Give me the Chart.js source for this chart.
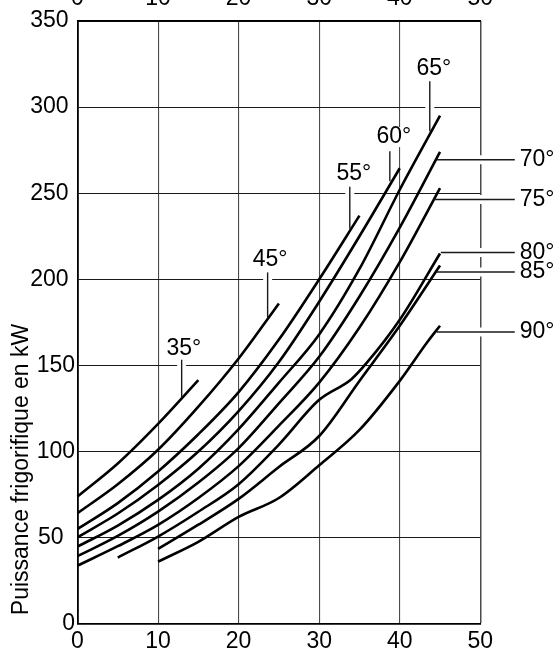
<!DOCTYPE html>
<html>
<head>
<meta charset="utf-8">
<script src="https://cdn.jsdelivr.net/npm/chart.js@4.4.1/dist/chart.umd.min.js"></script>
<style>
  html, body { margin: 0; padding: 0; background: #fff; }
  #wrap { width: 559px; height: 650px; position: relative; }
</style>
</head>
<body>
<div id="wrap"><canvas id="c" width="559" height="650"></canvas></div>
<script>
// ---- data ----
const xTicks = [0, 10, 20, 30, 40, 50];
const yTicks = [0, 50, 100, 150, 200, 250, 300, 350];
const yTitle = 'Puissance frigorifique en kW';

const x35 = [0, 5, 10, 15];
const y35 = [73.8, 93, 116, 141.4];
const x45 = [0, 5, 10, 15, 20, 25];
const y45 = [64.2, 81, 101, 126, 154, 186];
const x55 = [0, 5, 10, 15, 20, 25, 30, 35];
const y55 = [54.9, 70, 88.4, 110, 134.5, 165, 200, 237];
const x60 = [0, 5, 10, 15, 20, 25, 30, 35, 40];
const y60 = [50.2, 64, 80.6, 100, 123.5, 152, 187, 225, 264.5];
const x65 = [0, 5, 10, 15, 20, 25, 30, 35, 40, 45];
const y65 = [44.8, 57, 71.9, 90, 113, 140, 168, 206, 252, 295];
const x70 = [0, 5, 10, 15, 20, 25, 30, 35, 40, 45];
const y70 = [39.2, 51, 65.1, 82, 102, 128, 155, 190, 230, 274];
const x75 = [0, 5, 10, 15, 20, 25, 30, 35, 40, 45];
const y75 = [33.7, 45, 57.4, 73, 91.5, 115, 140, 172, 210, 253];
const x80 = [5, 10, 15, 20, 25, 30, 34, 36, 40, 45];
const y80 = [38.4, 50.6, 65, 81, 104, 130, 142, 152, 176.5, 215];
const x85 = [10, 15, 20, 25, 30, 35, 40, 45];
const y85 = [43.4, 57.5, 72.5, 91, 109, 141, 173, 208];
const x90 = [10, 15, 20, 25, 30, 35, 40, 43.5, 45];
const y90 = [36, 47.5, 62, 73, 92, 112.5, 141, 164, 173];

// curve labels (annotation anchors in data units)
const topLabels = [
  { text: '35°', tx: 13.2,  ty: 159.7, lx: 12.93, ly1: 153.3, ly2: 131 },
  { text: '45°', tx: 23.9,  ty: 211.4, lx: 23.6,  ly1: 204,   ly2: 178 },
  { text: '55°', tx: 34.3,  ty: 261.3, lx: 33.8,  ly1: 253.8, ly2: 229.4 },
  { text: '60°', tx: 39.27, ty: 282.6, lx: 38.77, ly1: 274.3, ly2: 256.9 },
  { text: '65°', tx: 44.23, ty: 322.4, lx: 43.73, ly1: 315,   ly2: 286 }
];
const sideLabels = [
  { text: '70°', y: 269.4, x1: 44.6 },
  { text: '75°', y: 246.3, x1: 44.2 },
  { text: '80°', y: 215.6, x1: 45.1 },
  { text: '85°', y: 204.2, x1: 44.5 },
  { text: '90°', y: 169.4, x1: 44.6 }
];
const sideLeaderEnd = 54.28;
const sideTextX = 54.9;

// ---- chart ----
const FONT = '"Liberation Sans", Arial, Helvetica, sans-serif';
const FS = 23;

function pts(xs, ys) { return xs.map((x, i) => ({ x: x, y: ys[i] })); }
const series = [
  [x35, y35], [x45, y45], [x55, y55], [x60, y60], [x65, y65],
  [x70, y70], [x75, y75], [x80, y80], [x85, y85], [x90, y90]
];
const datasets = series.map(s => ({
  data: pts(s[0], s[1]),
  borderColor: '#000',
  borderWidth: 2.6,
  pointRadius: 0,
  fill: false,
  cubicInterpolationMode: 'monotone',
  clip: false
}));

function textBg(ctx, text, cx, cy, align) {
  const w = ctx.measureText(text).width;
  const x0 = align === 'left' ? cx - 2 : cx - w / 2 - 2;
  ctx.fillStyle = '#fff';
  ctx.fillRect(x0, cy - 10, w + 4, 20);
}

const labelPlugin = {
  id: 'labels',
  beforeDatasetsDraw(chart) {
    const ctx = chart.ctx, xs = chart.scales.x, ys = chart.scales.y;
    ctx.save();
    ctx.strokeStyle = '#fff';
    ctx.lineWidth = 9;
    ctx.font = FS + 'px ' + FONT;
    topLabels.forEach(l => {
      const x = xs.getPixelForValue(l.lx);
      ctx.beginPath();
      ctx.moveTo(x, ys.getPixelForValue(l.ly1));
      ctx.lineTo(x, ys.getPixelForValue(l.ly2));
      ctx.stroke();
      textBg(ctx, l.text, xs.getPixelForValue(l.tx), ys.getPixelForValue(l.ty), 'center');
    });
    sideLabels.forEach(l => {
      const y = ys.getPixelForValue(l.y);
      ctx.beginPath();
      ctx.moveTo(xs.getPixelForValue(l.x1), y);
      ctx.lineTo(xs.getPixelForValue(sideLeaderEnd), y);
      ctx.stroke();
    });
    ctx.restore();
  },
  afterDatasetsDraw(chart) {
    const ctx = chart.ctx, xs = chart.scales.x, ys = chart.scales.y;
    ctx.save();
    ctx.strokeStyle = '#1a1a1a';
    ctx.lineWidth = 1.4;
    ctx.fillStyle = '#000';
    ctx.font = FS + 'px ' + FONT;
    ctx.textBaseline = 'middle';
    topLabels.forEach(l => {
      const x = xs.getPixelForValue(l.lx);
      ctx.beginPath();
      ctx.moveTo(x, ys.getPixelForValue(l.ly1));
      ctx.lineTo(x, ys.getPixelForValue(l.ly2));
      ctx.stroke();
      ctx.textAlign = 'center';
      ctx.fillText(l.text, xs.getPixelForValue(l.tx), ys.getPixelForValue(l.ty));
    });
    sideLabels.forEach(l => {
      const y = ys.getPixelForValue(l.y);
      ctx.beginPath();
      ctx.moveTo(xs.getPixelForValue(l.x1), y);
      ctx.lineTo(xs.getPixelForValue(sideLeaderEnd), y);
      ctx.stroke();
      ctx.textAlign = 'left';
      ctx.fillText(l.text, xs.getPixelForValue(sideTextX), y);
    });
    // y axis title
    const area = chart.chartArea;
    ctx.translate(27.5, area.bottom - 8.5);
    ctx.rotate(-Math.PI / 2);
    ctx.textAlign = 'left';
    ctx.textBaseline = 'alphabetic';
    ctx.fillText(yTitle, 0, 0);
    ctx.restore();
  }
};

const yLabelPad = { 350: ' ', 300: ' ', 250: ' ', 200: ' ', 150: '', 100: '', 50: '\u2002', 0: '' };

new Chart(document.getElementById('c'), {
  type: 'line',
  data: { datasets: datasets },
  options: {
    responsive: false,
    animation: false,
    events: [],
    layout: { padding: { left: 0, right: 78.7, top: 0, bottom: 0 } },
    plugins: { legend: { display: false }, tooltip: { enabled: false }, title: { display: false } },
    scales: {
      x: {
        type: 'linear', position: 'bottom', min: 0, max: 50,
        afterBuildTicks: s => { s.ticks = xTicks.map(v => ({ value: v })); },
        afterFit: s => { s.height = 26.3; },
        ticks: { color: '#000', font: { family: FONT, size: FS }, padding: 4, maxRotation: 0, autoSkip: false },
        grid: {
          drawTicks: false,
          color: '#4a4a4a',
          lineWidth: c => (c.tick && c.tick.value === 50) ? 1.5 : 1.1
        },
        border: { display: true, color: '#000', width: 1.8 }
      },
      x2: {
        type: 'linear', position: 'top', min: 0, max: 50,
        afterBuildTicks: s => { s.ticks = xTicks.map(v => ({ value: v })); },
        afterFit: s => { s.height = 21; },
        ticks: { color: '#000', font: { family: FONT, size: FS }, padding: 8.7, maxRotation: 0, autoSkip: false },
        grid: { display: false, drawTicks: false },
        border: { display: true, color: '#000', width: 1.8 }
      },
      y: {
        type: 'linear', position: 'left', min: 0, max: 350,
        afterBuildTicks: s => { s.ticks = yTicks.map(v => ({ value: v })); },
        afterFit: s => { s.width = 77.5; },
        ticks: {
          color: '#000', font: { family: FONT, size: FS }, padding: 2.5,
          callback: v => String(v) + (yLabelPad[v] || '')
        },
        grid: { drawTicks: false, color: '#1a1a1a', lineWidth: 1 },
        border: { display: true, color: '#000', width: 1.8 }
      }
    }
  },
  plugins: [labelPlugin]
});
</script>
</body>
</html>
